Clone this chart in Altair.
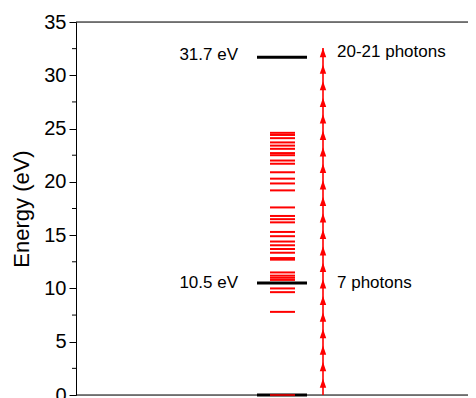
import altair as alt
import pandas as pd

# ---- data ----
black_levels = [0.0, 10.5, 31.7]
red_levels = [0.0, 7.8, 9.65, 10.0, 10.8, 11.0, 11.2, 11.5, 12.7, 12.85, 13.35, 13.7,
              14.05, 14.4, 14.9, 15.3, 16.2, 16.5, 16.8, 17.6, 19.2, 19.85, 20.3, 20.9,
              21.7, 22.0, 22.5, 22.7, 23.1, 23.4, 23.7, 24.1, 24.4, 24.6]
photon_energy = 1.55
n_photons = 21
photon_steps = [photon_energy * (i + 1) for i in range(n_photons)]
left_labels = ["31.7 eV", "10.5 eV"]
left_label_y = [31.9, 10.5]
right_labels = ["20-21 photons", "7 photons"]
right_label_y = [32.2, 10.5]
y_ticks = [0, 5, 10, 15, 20, 25, 30, 35]
y_minor = [2.5, 7.5, 12.5, 17.5, 22.5, 27.5, 32.5]
frame_y = [0, 35]

W = 392
yscale = alt.Scale(domain=[0, 35], nice=False)
font = "Liberation Sans"

base_y = alt.Y("E:Q", scale=yscale,
               axis=alt.Axis(values=y_ticks, title="Energy (eV)", grid=False,
                             tickSize=7, tickColor="black", domainColor="black",
                             labelFontSize=20, labelFont=font, labelColor="black",
                             labelPadding=3, titleFontSize=22, titleFont=font,
                             titleFontWeight="normal", titleColor="black",
                             titlePadding=10))

frame = alt.Chart(pd.DataFrame({"E": frame_y})).mark_rule(color="black", strokeWidth=1).encode(
    y=alt.Y("E:Q", scale=yscale), x=alt.value(0), x2=alt.value(W + 10))

minor = alt.Chart(pd.DataFrame({"E": y_minor})).mark_rule(color="black", strokeWidth=1).encode(
    y=alt.Y("E:Q", scale=yscale), x=alt.value(-4), x2=alt.value(0))

red = alt.Chart(pd.DataFrame({"E": red_levels[1:]})).mark_rule(color="#ff0000", strokeWidth=2).encode(
    y=base_y, x=alt.value(194), x2=alt.value(219))

black = alt.Chart(pd.DataFrame({"E": black_levels})).mark_rule(color="black", strokeWidth=3).encode(
    y=alt.Y("E:Q", scale=yscale), x=alt.value(181), x2=alt.value(231))

red0 = alt.Chart(pd.DataFrame({"E": red_levels[:1]})).mark_rule(color="#ff0000", strokeWidth=1.5).encode(
    y=alt.Y("E:Q", scale=yscale), x=alt.value(194), x2=alt.value(219))

arrow_line = alt.Chart(pd.DataFrame({"E": [0.0], "E2": [photon_steps[-1]]})).mark_rule(
    color="#ff0000", strokeWidth=1.6).encode(
    y=alt.Y("E:Q", scale=yscale), y2="E2:Q", x=alt.value(247))

heads = alt.Chart(pd.DataFrame({"E": photon_steps})).mark_point(
    shape="M0,0L-0.7,2L0.7,2Z", filled=True, color="#ff0000", opacity=1, size=85,
    strokeWidth=0).encode(
    y=alt.Y("E:Q", scale=yscale), x=alt.value(247))

ltext = alt.Chart(pd.DataFrame({"E": left_label_y, "t": left_labels})).mark_text(
    align="right", baseline="middle", fontSize=17, font=font, color="black").encode(
    y=alt.Y("E:Q", scale=yscale), x=alt.value(162), text="t:N")

rtext = alt.Chart(pd.DataFrame({"E": right_label_y, "t": right_labels})).mark_text(
    align="left", baseline="middle", fontSize=17, font=font, color="black").encode(
    y=alt.Y("E:Q", scale=yscale), x=alt.value(261), text="t:N")

chart = alt.layer(red, frame, minor, black, red0, arrow_line, heads, ltext, rtext).properties(
    width=W, height=373,
    autosize=alt.AutoSizeParams(type="none"),
    padding={"left": 68, "top": 14, "right": 0, "bottom": 40},
).configure_view(strokeWidth=0).configure(background="white")

chart.save("out.html", embed_options={"renderer": "svg", "actions": False})
